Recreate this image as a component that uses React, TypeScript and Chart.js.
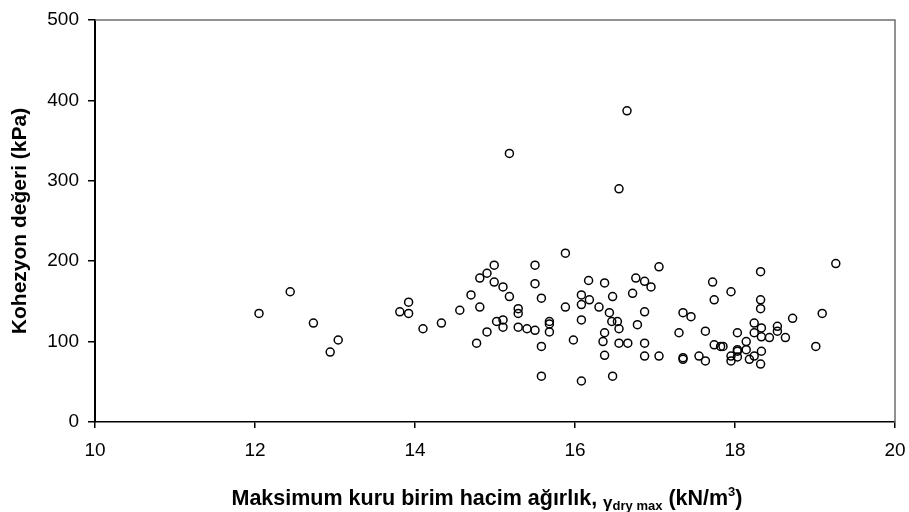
import React, { useEffect, useRef } from "react";
import { Chart, registerables } from "chart.js";

Chart.register(...registerables);

const xValues: number[] = [
  12.05, 12.44, 12.73, 12.94, 13.04, 13.81, 13.92, 13.92, 14.10, 14.33,
  14.56, 14.70, 14.77, 14.81, 14.81, 14.90, 14.90, 14.99, 14.99, 15.02,
  15.10, 15.10, 15.10, 15.18, 15.18, 15.29, 15.29, 15.29, 15.40, 15.50,
  15.50, 15.50, 15.58, 15.58, 15.58, 15.68, 15.68, 15.68, 15.88, 15.88,
  15.98, 16.08, 16.08, 16.08, 16.08, 16.17, 16.18, 16.30, 16.37, 16.47,
  16.43, 16.46, 16.53, 16.55, 16.37, 16.35, 16.55, 16.66, 16.37, 16.47,
  16.65, 16.55, 16.72, 16.76, 16.87, 16.95, 17.05, 16.87, 16.78, 16.87,
  16.87, 17.05, 17.35, 17.45, 17.30, 17.35, 17.35, 17.55, 17.72, 17.95,
  17.74, 18.32, 18.32, 18.32, 18.72, 17.63, 18.03, 18.24, 18.24, 18.33,
  18.33, 18.43, 18.53, 18.53, 18.63, 18.14, 17.74, 17.82, 17.85, 18.03,
  18.03, 18.14, 18.33, 17.63, 17.95, 17.95, 18.03, 18.18, 18.24, 18.32,
  19.26, 19.09, 19.01,
];

const yValues: number[] = [
  135, 162, 123, 87, 102, 137, 149, 135, 116, 123,
  139, 158, 98, 143, 179, 185, 112, 195, 174, 125,
  168, 127, 118, 334, 156, 141, 135, 118, 116, 114,
  195, 172, 154, 94, 57, 125, 122, 112, 210, 143,
  102, 158, 146, 127, 51, 176, 152, 143, 173, 156,
  136, 125, 125, 116, 111, 100, 98, 98, 83, 57,
  387, 290, 160, 179, 175, 168, 193, 137, 121, 98,
  82, 82, 136, 131, 111, 80, 78, 82, 174, 162,
  152, 187, 152, 141, 129, 113, 111, 123, 111, 117,
  106, 105, 119, 113, 105, 100, 96, 94, 94, 90,
  88, 90, 88, 76, 82, 76, 81, 78, 82, 72,
  197, 135, 94,
];

const xTicks: number[] = [10, 12, 14, 16, 18, 20];
const yTicks: number[] = [0, 100, 200, 300, 400, 500];

const yTitle = "Kohezyon değeri (kPa)";
const xTitleMain = "Maksimum kuru birim hacim ağırlık, ";
const xTitleGamma = "γ";
const xTitleSub = "dry max";
const xTitleUnit = " (kN/m";
const xTitleSup = "3";
const xTitleEnd = ")";

const FONT = "'Liberation Sans', Arial, sans-serif";

const framePlugin = {
  id: "frameAndTitle",
  afterDraw(chart: any) {
    const { ctx, chartArea } = chart;
    ctx.save();
    // top & right frame
    ctx.strokeStyle = "#6e6e6e";
    ctx.lineWidth = 1.5;
    ctx.beginPath();
    ctx.moveTo(chartArea.left, chartArea.top);
    ctx.lineTo(chartArea.right, chartArea.top);
    ctx.lineTo(chartArea.right, chartArea.bottom);
    ctx.stroke();

    // x title with sub/superscripts
    const parts = [
      { t: xTitleMain, f: `bold 21.5px ${FONT}`, dy: 0 },
      { t: xTitleGamma, f: `bold 17px ${FONT}`, dy: 3 },
      { t: xTitleSub, f: `bold 13px ${FONT}`, dy: 5 },
      { t: xTitleUnit, f: `bold 21.5px ${FONT}`, dy: 0 },
      { t: xTitleSup, f: `bold 13px ${FONT}`, dy: -9 },
      { t: xTitleEnd, f: `bold 21.5px ${FONT}`, dy: 0 },
    ];
    let total = 0;
    const widths = parts.map((p) => {
      ctx.font = p.f;
      const w = ctx.measureText(p.t).width;
      total += w;
      return w;
    });
    const cx = 487;
    const baseline = 505;
    let x = cx - total / 2;
    ctx.fillStyle = "#000";
    ctx.textBaseline = "alphabetic";
    ctx.textAlign = "left";
    parts.forEach((p, i) => {
      ctx.font = p.f;
      ctx.fillText(p.t, x, baseline + p.dy);
      x += widths[i];
    });
    ctx.restore();
  },
};

export default function App() {
  const canvasRef = useRef<HTMLCanvasElement | null>(null);

  useEffect(() => {
    document.body.style.margin = "0";
    const canvas = canvasRef.current;
    if (!canvas) return;
    const data = xValues.map((x, i) => ({ x, y: yValues[i] }));
    const chart = new Chart(canvas, {
      type: "scatter",
      data: {
        datasets: [
          {
            data,
            pointStyle: "circle",
            pointRadius: 4,
            pointHoverRadius: 4,
            pointBorderWidth: 1.5,
            pointBorderColor: "#000",
            pointBackgroundColor: "rgba(255,255,255,0)",
          },
        ],
      },
      options: {
        animation: false,
        responsive: false,
        maintainAspectRatio: false,
        events: [],
        layout: { padding: { top: 20, right: 14, left: 0, bottom: 0 } },
        plugins: {
          legend: { display: false },
          tooltip: { enabled: false },
        },
        scales: {
          x: {
            type: "linear",
            min: 10,
            max: 20,
            afterBuildTicks: (scale: any) => {
              scale.ticks = xTicks.map((v) => ({ value: v }));
            },
            afterFit: (scale: any) => {
              scale.height = 90;
              scale.paddingLeft = 0;
              scale.paddingRight = 0;
            },
            ticks: {
              color: "#000",
              font: { family: FONT, size: 19 },
              padding: 11,
              maxRotation: 0,
              autoSkip: false,
            },
            grid: {
              drawOnChartArea: false,
              drawTicks: true,
              tickLength: 6,
              color: "#000",
              lineWidth: 1.5,
            },
            border: { display: true, color: "#000", width: 1.5 },
          },
          y: {
            type: "linear",
            min: 0,
            max: 500,
            afterBuildTicks: (scale: any) => {
              scale.ticks = yTicks.map((v) => ({ value: v }));
            },
            afterFit: (scale: any) => {
              scale.width = 95;
              scale.paddingTop = 0;
              scale.paddingBottom = 0;
            },
            ticks: {
              color: "#000",
              font: { family: FONT, size: 19 },
              padding: 9,
              autoSkip: false,
            },
            grid: {
              drawOnChartArea: false,
              drawTicks: true,
              tickLength: 7,
              color: "#000",
              lineWidth: 1.5,
            },
            border: { display: true, color: "#000", width: 2 },
            title: {
              display: true,
              text: yTitle,
              color: "#000",
              font: { family: FONT, size: 21, weight: "bold" },
              padding: { top: 8, bottom: 0 },
            },
          },
        },
      },
      plugins: [framePlugin],
    });
    return () => chart.destroy();
  }, []);

  return (
    <div style={{ width: 909, height: 512, position: "relative", background: "#fff" }}>
      <canvas ref={canvasRef} width={909} height={512} style={{ display: "block" }} />
    </div>
  );
}
